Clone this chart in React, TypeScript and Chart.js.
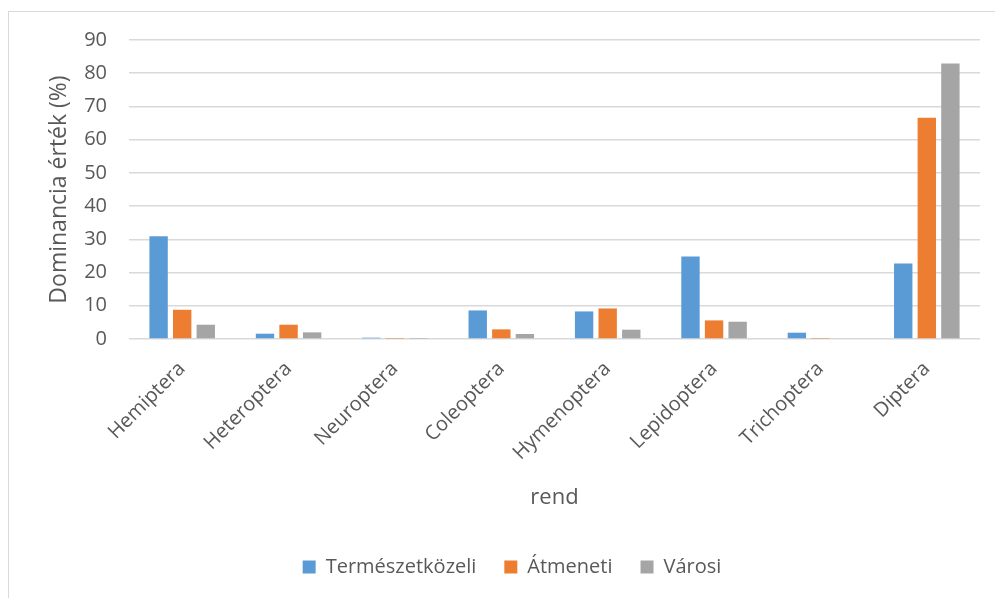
import React, { useEffect, useRef } from "react";
import { Chart, registerables } from "chart.js";

Chart.register(...registerables);

const categories = ["Hemiptera", "Heteroptera", "Neuroptera", "Coleoptera", "Hymenoptera", "Lepidoptera", "Trichoptera", "Diptera"];
const termeszetkozeli = [30.9, 1.6, 0.4, 8.6, 8.3, 24.8, 1.9, 22.7];
const atmeneti = [8.8, 4.3, 0.1, 2.9, 9.2, 5.6, 0.1, 66.6];
const varosi = [4.3, 2.0, 0.1, 1.5, 2.8, 5.2, 0, 82.9];
const seriesNames = ["Természetközeli", "Átmeneti", "Városi"];
const yTitle = "Dominancia érték (%)";
const xTitle = "rend";

const FONT = "'Open Sans', 'Noto Sans', sans-serif";
const TEXT = "#595959";
const GRID = "#d9d9d9";

export default function App() {
  const ref = useRef<HTMLCanvasElement | null>(null);
  useEffect(() => {
    if (!ref.current) return;
    const legendHeight = {
      id: "legendHeight",
      beforeInit(chart: any) {
        const orig = chart.legend.fit;
        chart.legend.fit = function () {
          orig.bind(chart.legend)();
          this.height = 63;
        };
      },
    };
    const chart = new Chart(ref.current, {
      type: "bar",
      data: {
        labels: categories,
        datasets: [
          { label: seriesNames[0], data: termeszetkozeli, backgroundColor: "#5B9BD5" },
          { label: seriesNames[1], data: atmeneti, backgroundColor: "#ED7D31" },
          { label: seriesNames[2], data: varosi, backgroundColor: "#A5A5A5" },
        ],
      },
      options: {
        animation: false,
        responsive: false,
        datasets: { bar: { categoryPercentage: 0.665, barPercentage: 0.78 } },
        layout: { padding: { left: 35, right: 15, top: 34, bottom: 0 } },
        plugins: {
          legend: {
            position: "bottom",
            labels: {
              boxWidth: 13,
              boxHeight: 13,
              padding: 28,
              color: TEXT,
              font: { family: FONT, size: 20 },
            },
          },
          tooltip: { enabled: false },
        },
        scales: {
          x: {
            grid: { display: false },
            border: { display: false },
            ticks: {
              color: TEXT,
              font: { family: FONT, size: 20 },
              minRotation: 45,
              maxRotation: 45,
              autoSkip: false,
              padding: 10,
            },
            title: {
              display: true,
              text: xTitle,
              color: TEXT,
              font: { family: FONT, size: 22 },
              padding: { top: 4, bottom: 18 },
            },
            afterFit: (s: any) => {
              s.height = 190;
            },
          },
          y: {
            min: 0,
            max: 90,
            grid: { color: GRID, lineWidth: 1.5, drawTicks: false },
            border: { display: false },
            ticks: {
              stepSize: 10,
              color: TEXT,
              font: { family: FONT, size: 20 },
              padding: 22,
            },
            title: {
              display: true,
              text: yTitle,
              color: TEXT,
              font: { family: FONT, size: 23 },
              padding: { top: 2, bottom: 0 },
            },
            afterFit: (s: any) => {
              s.width = 85;
            },
          },
        },
      },
      plugins: [legendHeight],
    } as any);
    return () => chart.destroy();
  }, []);
  return (
    <div
      style={{
        position: "fixed",
        left: 8,
        top: 11,
        width: 987,
        height: 587,
        borderTop: "1px solid #d9d9d9",
        borderLeft: "1px solid #d9d9d9",
        background: "#fff",
      }}
    >
      <canvas
        ref={ref}
        width={986}
        height={586}
        style={{ display: "block", position: "absolute", left: 0, top: -6 }}
      />
    </div>
  );
}
